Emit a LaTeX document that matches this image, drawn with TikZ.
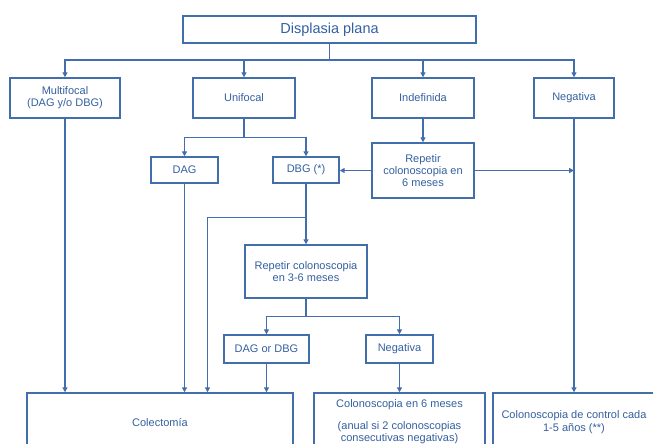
\documentclass[tikz,border=0pt]{standalone}
\usepackage{fontspec}
\setmainfont{Liberation Sans}
\usetikzlibrary{arrows.meta,calc}
\definecolor{lineblue}{RGB}{66,110,172}
\definecolor{textblue}{RGB}{52,96,160}
\tikzset{
  box/.style={draw=lineblue, line width=1.4pt, rectangle, inner sep=0pt, align=center,
    text=textblue, font=\fontsize{11}{12.3}\selectfont},
  conn/.style={draw=lineblue, line width=1.4pt},
  arr/.style={conn, -{Triangle[length=5pt,width=5pt]}},
}
\begin{document}
\begin{tikzpicture}[x=1pt,y=-1pt]
\clip (0,0) rectangle (653,444);
\fill[white] (0,0) rectangle (653,444);
% row 0
\node[box, minimum width=293pt, minimum height=27pt, font=\fontsize{14.5}{16}\selectfont] (top) at (329.5,29.5) {Displasia plana};
% row 1
\node[box, minimum width=110pt, minimum height=40pt] (multi) at (65,98) {Multifocal\\(DAG y/o DBG)};
\node[box, minimum width=102pt, minimum height=40pt] (uni) at (244,98) {Unifocal};
\node[box, minimum width=102pt, minimum height=40pt] (indef) at (423,98) {Indefinida};
\node[box, minimum width=80pt, minimum height=40pt] (neg) at (574,98) {Negativa};
% row 2
\node[box, minimum width=67pt, minimum height=26pt] (dag) at (184.5,170) {DAG};
\node[box, minimum width=66pt, minimum height=26pt] (dbg) at (306,170) {DBG (*)};
\node[box, minimum width=102pt, minimum height=55pt] (rep6) at (423,170.5) {Repetir\\colonoscopia en\\6 meses};
% row 3
\node[box, minimum width=122pt, minimum height=53pt] (rep36) at (306,271.5) {Repetir colonoscopia\\en 3-6 meses};
% row 4
\node[box, minimum width=85pt, minimum height=28pt] (dagdbg) at (266.5,349) {DAG or DBG};
\node[box, minimum width=67pt, minimum height=28pt] (neg2) at (399.5,349) {Negativa};
% bottom
\node[box, minimum width=266pt, minimum height=58pt] (colect) at (160,422) {Colectomía};
\node[box, minimum width=171pt, minimum height=58pt] (col6) at (399.5,422) {Colonoscopia en 6 meses\\[9.7pt](anual si 2 colonoscopias\\consecutivas negativas)};
\node[box, minimum width=162pt, minimum height=58pt] (colctrl) at (574,422) {Colonoscopia de control cada\\1-5 años (**)};
% named free ends
\coordinate (negmid) at (neg.south |- rep6.east);
\coordinate (c1) at (multi.south |- colect.north);
\coordinate (c2) at (dag.south |- colect.north);
\coordinate (c3) at (207.5,393 |- colect.north);
\coordinate (c4) at (dagdbg.south |- colect.north);
\coordinate (split) at ($(dbg.south)+(0,34)$);
% connectors
\draw[arr] (top.south) -- ++(0,16.5) -| (multi.north);
\draw[arr] (top.south) -- ++(0,16.5) -| (uni.north);
\draw[arr] (top.south) -- ++(0,16.5) -| (indef.north);
\draw[arr] (top.south) -- ++(0,16.5) -| (neg.north);
\draw[arr] (uni.south) -- ++(0,19) -| (dag.north);
\draw[arr] (uni.south) -- ++(0,19) -| (dbg.north);
\draw[arr] (indef.south) -- (rep6.north);
\draw[arr] (rep6.west) -- (rep6.west -| dbg.east);
\draw[arr] (rep6.east) -- (negmid);
\draw[arr] (neg.south) -- (colctrl.north);
\draw[arr] (multi.south) -- (c1);
\draw[arr] (dag.south) -- (c2);
\draw[arr] (dbg.south) -- (rep36.north);
\draw[arr] (split) -| (c3);
\draw[arr] (rep36.south) -- ++(0,18) -| (dagdbg.north);
\draw[arr] (rep36.south) -- ++(0,18) -| (neg2.north);
\draw[arr] (dagdbg.south) -- (c4);
\draw[arr] (neg2.south) -- (col6.north);
\end{tikzpicture}
\end{document}
